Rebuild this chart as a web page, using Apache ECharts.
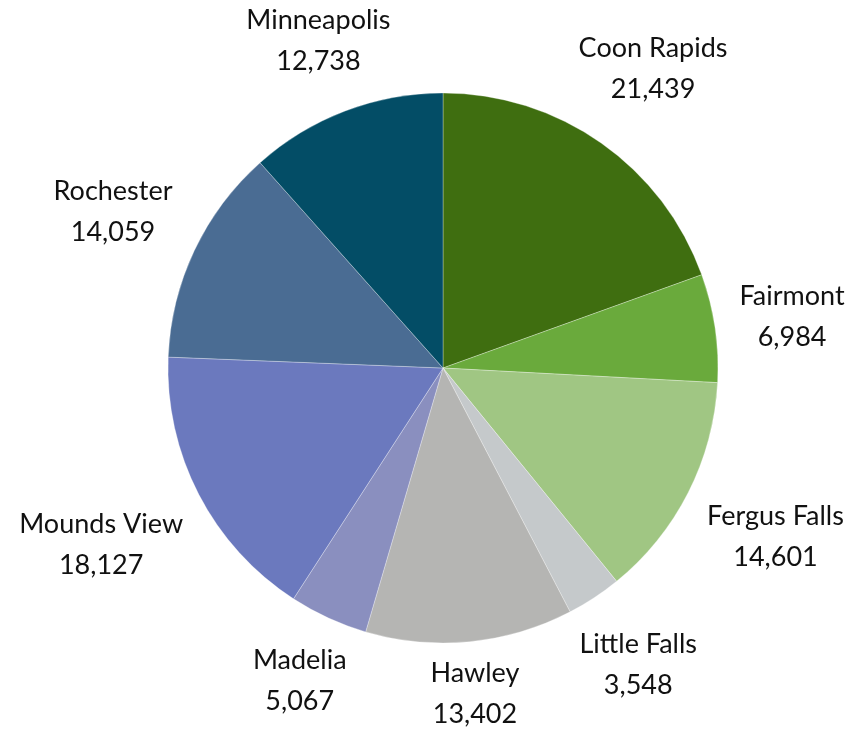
<!DOCTYPE html>
<html>
<head>
<meta charset="utf-8">
<script src="https://cdn.jsdelivr.net/npm/echarts@6/dist/echarts.min.js"></script>
<style>
  html, body { margin: 0; padding: 0; background: #fff; }
  #chart { width: 856px; height: 734px; }
</style>
</head>
<body>
<div id="chart"></div>
<script>
// cities and counts, clockwise from 12 o'clock
const cities = ['Coon Rapids', 'Fairmont', 'Fergus Falls', 'Little Falls', 'Hawley', 'Madelia', 'Mounds View', 'Rochester', 'Minneapolis'];
const counts = [21439, 6984, 14601, 3548, 13402, 5067, 18127, 14059, 12738];
const colors = ['#3f6e10', '#6aaa3c', '#a0c683', '#c5c9cb', '#b5b5b3', '#8a8fbf', '#6b79be', '#4a6c93', '#034d66'];

const cx = 443, cy = 368, R = 275;
const total = counts.reduce((a, b) => a + b, 0);

// mid angle of each slice (radians, clockwise from top)
const midAngles = [];
let acc = 0;
counts.forEach(v => {
  midAngles.push((acc + v / 2) / total * Math.PI * 2);
  acc += v;
});

const chart = echarts.init(document.getElementById('chart'));
chart.setOption({
  animation: false,
  series: [{
    type: 'pie',
    center: [cx, cy],
    radius: R,
    startAngle: 90,
    clockwise: true,
    data: cities.map((c, i) => ({ name: c, value: counts[i], itemStyle: { color: colors[i] } })),
    itemStyle: { borderColor: 'rgba(255,255,255,0.6)', borderWidth: 0.5 },
    label: {
      show: true,
      position: 'outside',
      formatter: p => p.name + '\n' + p.value.toLocaleString('en-US'),
      fontFamily: 'Lato',
      fontSize: 27,
      lineHeight: 41,
      color: '#111',
      align: 'center',
      overflow: 'none'
    },
    labelLine: { show: false },
    // push label box just outside the rim along the mid angle
    labelLayout: params => {
      const a = midAngles[params.dataIndex];
      const dx = Math.sin(a), dy = -Math.cos(a);
      const w = params.labelRect.width, h = params.labelRect.height;
      const d = R + 6 + Math.abs(dx) * (w / 2 + 14) + Math.abs(dy) * h / 2;
      return {
        x: cx + dx * d,
        y: cy + dy * d,
        align: 'center',
        verticalAlign: 'middle'
      };
    }
  }]
});
</script>
</body>
</html>
